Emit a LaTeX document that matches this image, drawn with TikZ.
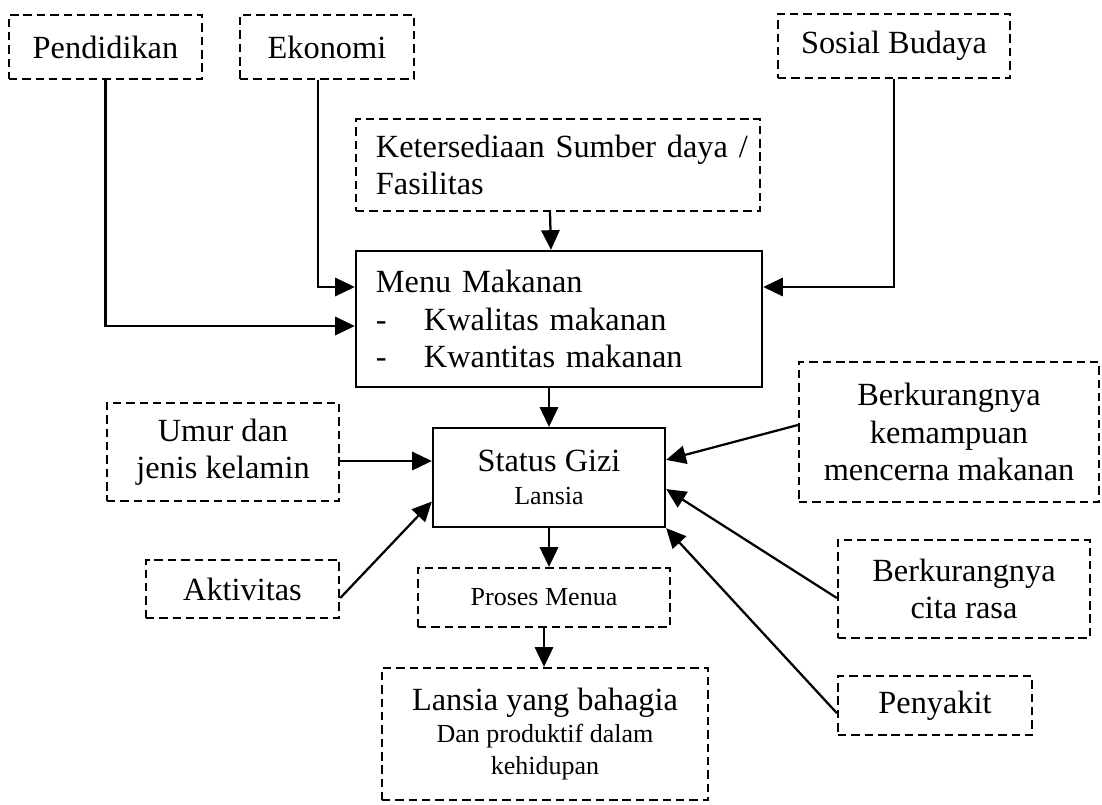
\documentclass[tikz,border=0pt]{standalone}
\usepackage{fontspec}
\setmainfont{Liberation Serif}
\usetikzlibrary{arrows.meta, positioning}

\newcommand{\bigtxt}{\fontsize{23}{26.5}\selectfont}
\newcommand{\smalltxt}{\fontsize{18.5}{23}\selectfont}

\tikzset{
	dbox/.style={draw, dash pattern=on 6pt off 3.5pt, line width=1.6pt, inner sep=0pt, align=center, font=\bigtxt},
	sbox/.style={draw, line width=1.6pt, inner sep=0pt, align=center, font=\bigtxt},
	arr/.style={-{Triangle[length=14pt, width=13pt]}, line width=1.6pt},
}

\begin{document}
\begin{tikzpicture}[x=0.025cm, y=-0.025cm]
			\useasboundingbox (0, 0) rectangle (1102, 804);

			% top row
			\node (pend)[dbox, minimum width=4.83cm, minimum height=1.6cm] at (105.5, 47) {Pendidikan};
			\node (eko)[dbox, minimum width=4.35cm, minimum height=1.6cm] at (327, 47) {Ekonomi};
			\node (sos)[dbox, minimum width=5.8cm, minimum height=1.6cm] at (894, 46) {Sosial Budaya};
			\node (ket)[dbox, align=left, text width=10.1cm, minimum height=2.3cm] at (558, 165)
				{\hspace*{0.5cm}Ketersediaan Sumber daya /\\\hspace*{0.5cm}Fasilitas};

			\node (menu)[sbox, align=left, text width=10.15cm, minimum height=3.4cm] at (559, 319)
				{\hspace*{0.5cm}Menu Makanan\\
				 \hspace*{0.5cm}\makebox[1.2cm][l]{-}Kwalitas makanan\\
				 \hspace*{0.5cm}\makebox[1.2cm][l]{-}Kwantitas makanan};

			% middle
			\node (umur)[dbox, minimum width=5.8cm, minimum height=2.45cm] at (223, 452) {Umur dan\\jenis kelamin};
			\node (status)[sbox, font=\smalltxt, minimum width=5.8cm, minimum height=2.475cm] at (549, 477.5)
				{{\bigtxt Status Gizi}\\Lansia};
			\node (berk)[dbox, minimum width=7.5cm, minimum height=3.5cm] at (949, 432)
				{Berkurangnya\\kemampuan\\mencerna makanan};
			\node (akt)[dbox, minimum width=4.83cm, minimum height=1.45cm] at (242.5, 589) {Aktivitas};
			\node (proses)[dbox, font=\smalltxt, minimum width=6.3cm, minimum height=1.475cm] at (544, 597.5) {Proses Menua};
			\node (cita)[dbox, minimum width=6.3cm, minimum height=2.45cm] at (964, 589) {Berkurangnya\\cita rasa};
			\node (peny)[dbox, minimum width=4.85cm, minimum height=1.475cm] at (935, 705.5) {Penyakit};

			% bottom
			\node (lansia)[dbox, font=\smalltxt, minimum width=8.15cm, minimum height=3.3cm] at (545, 734)
				{{\bigtxt Lansia yang bahagia}\\Dan produktif dalam\\kehidupan};

			\draw[arr] (pend.south) |- ([yshift=-0.175cm]menu.west);
			\draw[arr] ([xshift=-0.225cm]eko.south) |- ([yshift=0.8cm]menu.west);
			\draw[arr] (sos.south) |- ([yshift=0.8cm]menu.east);
			\draw[arr] ([xshift=-0.2cm]ket.south) -- ([xshift=-0.2cm]menu.north);

			\draw[arr] (menu.south -| status.north) -- (status.north);
			\draw[arr] ([yshift=-0.225cm]umur.east) -- ([yshift=-0.225cm]umur.east -| status.west);
			\draw[arr] ([yshift=-0.225cm]akt.east) -- ([yshift=-0.6cm]status.west);
			\draw[arr] ([yshift=0.175cm]berk.west) -- ([yshift=0.44cm]status.east);
			\draw[arr] ([yshift=-0.225cm]cita.west) -- ([yshift=-0.29cm]status.east);
			\draw[arr] ([yshift=-0.19cm]peny.west) -- (status.south east);

			\draw[arr] (status.south) -- (status.south |- proses.north);
			\draw[arr] (proses.south) -- (proses.south |- lansia.north);
		\end{tikzpicture}
\end{document}
